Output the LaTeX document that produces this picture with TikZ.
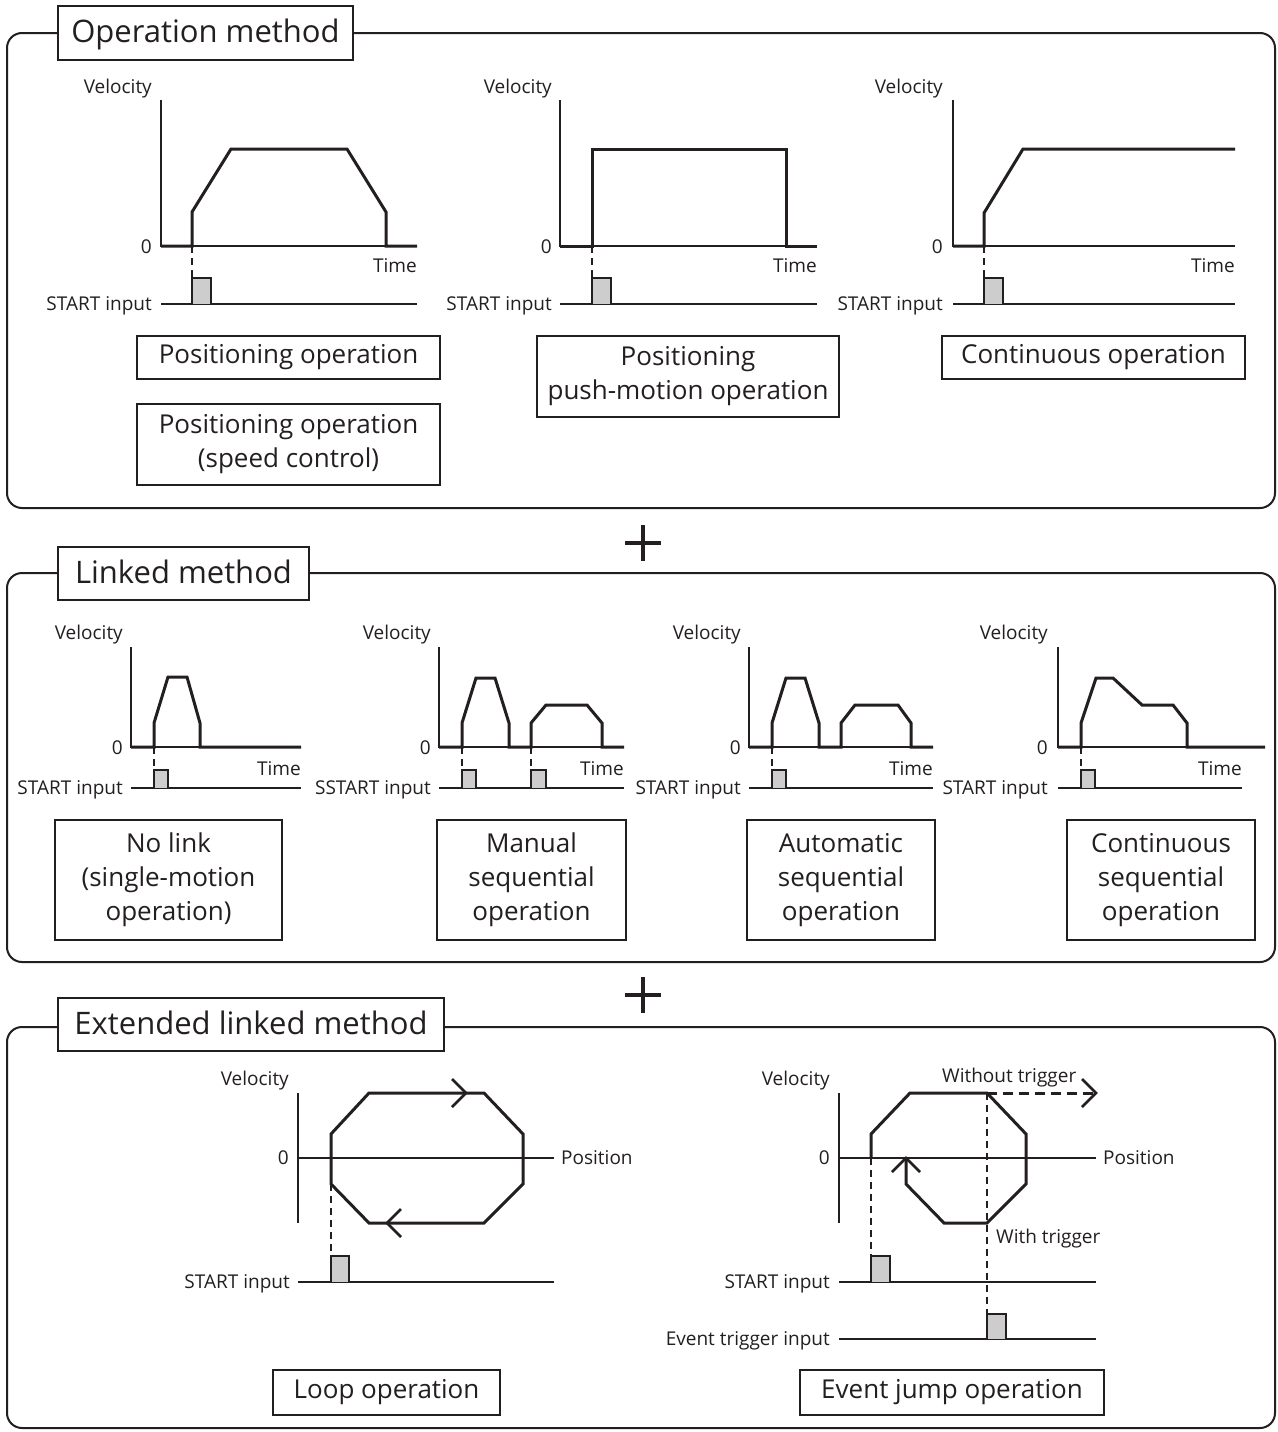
\documentclass[tikz,border=0pt]{standalone}
\usepackage{fontspec}
\setmainfont{Open Sans}
\definecolor{ink}{RGB}{35,31,32}
\definecolor{pgray}{RGB}{205,205,205}
\newcommand\mypulse[4]{% x, baseline y, top y, width
  \filldraw[pls] (#1,#2) -- (#1,#3) -- ({#1+#4},#3) -- ({#1+#4},#2);}
\begin{document}
\begin{tikzpicture}[x=1pt,y=-1pt,
  panel/.style={draw=ink, line width=2pt, rounded corners=15pt},
  ttl/.style={draw=ink, fill=white, line width=1.8pt, font=\fontsize{31}{38}\selectfont, inner sep=0pt, text=ink, text depth=4pt},
  box/.style={draw=ink, line width=1.3pt, font=\fontsize{26}{34}\selectfont, align=center, inner sep=0pt, text=ink},
  lbl/.style={font=\fontsize{19}{22}\selectfont, inner sep=0pt, text=ink},
  lr/.style={lbl, anchor=base east},
  ll/.style={lbl, anchor=base west},
  axis/.style={draw=ink, line width=1.3pt},
  prof/.style={draw=ink, line width=3pt, line join=miter},
  dsh/.style={draw=ink, line width=1.3pt, dash pattern=on 7pt off 5pt},
  pls/.style={fill=pgray, draw=ink, line width=1.3pt},
  chev/.style={draw=ink, line width=2.6pt, line join=miter},
  plus/.style={draw=ink, line width=4.5pt}]
\fill[white] (0,0) rectangle (1277,1432);
\useasboundingbox (0,0) rectangle (1277,1432);

% ================= Panel 1 =================
\draw[panel] (7,33) rectangle (1275,508);
\node[ttl, minimum width=295pt, minimum height=54pt] (T1) at (205.5,33) {Operation method};

% plot 1
\draw[axis] (161,100) -- (161,246) -- (417,246);
\draw[prof] (161,246) -- (192,246) -- (192,212) -- (231,149) -- (347,149) -- (386,212) -- (386,246) -- (417,246);
\draw[dsh] (192,246) -- (192,278);
\draw[axis] (161,304) -- (417,304);
\mypulse{192}{304}{278}{19}
\node[lr] (v1) at (152,93) {Velocity};
\node[lr] (z1) at (152,253) {0};
\node[lr] (t1) at (417,272) {Time};
\node[lr] (s1) at (152,310) {START input};

% plot 2
\draw[axis] (560,100) -- (560,246) -- (817,246);
\draw[prof] (560,246) -- (592,246) -- (592,149) -- (786,149) -- (786,246) -- (817,246);
\draw[dsh] (592,246) -- (592,278);
\draw[axis] (560,304) -- (817,304);
\mypulse{592}{304}{278}{19}
\node[lr] (v2) at (552,93) {Velocity};
\node[lr] (z2) at (552,253) {0};
\node[lr] (t2) at (817,272) {Time};
\node[lr] (s2) at (552,310) {START input};

% plot 3
\draw[axis] (953,100) -- (953,246) -- (1235,246);
\draw[prof] (953,246) -- (984,246) -- (984,213) -- (1023,149) -- (1235,149);
\draw[dsh] (984,246) -- (984,278);
\draw[axis] (953,304) -- (1235,304);
\mypulse{984}{304}{278}{19}
\node[lr] (v3) at (943,93) {Velocity};
\node[lr] (z3) at (943,253) {0};
\node[lr] (t3) at (1235,272) {Time};
\node[lr] (s3) at (943,310) {START input};

\node[box, minimum width=303pt, minimum height=43pt] (b1) at (288.5,357.5) {Positioning operation};
\node[box, minimum width=303pt, minimum height=81pt] (b2) at (288.5,444.5) {Positioning operation\\(speed control)};
\node[box, minimum width=302pt, minimum height=81pt] (b3) at (688,376.5) {Positioning\\push-motion operation};
\node[box, minimum width=303pt, minimum height=43pt] (b4) at (1093.5,357.5) {Continuous operation};

% plus 1
\draw[plus] (625,543) -- (661,543) (643,525) -- (643,561);

% ================= Panel 2 =================
\draw[panel] (7,573) rectangle (1275,962);
\node[ttl, minimum width=251pt, minimum height=53pt] (T2) at (183.5,573.5) {Linked method};

% L1
\draw[axis] (131,647) -- (131,747) -- (301,747);
\draw[prof] (131,747) -- (154,747) -- (154,723) -- (168,677) -- (187,677) -- (200,723) -- (200,747) -- (301,747);
\draw[dsh] (154,747) -- (154,770);
\draw[axis] (131,788) -- (301,788);
\mypulse{154}{788}{770}{14}
\node[lr] (lv1) at (123,639) {Velocity};
\node[lr] (lz1) at (123,754) {0};
\node[lr] (lt1) at (301,775) {Time};
\node[lr] (ls1) at (123,794) {START input};

% L2
\draw[axis] (439,647) -- (439,747) -- (624,747);
\draw[prof] (439,747) -- (462,747) -- (462,723) -- (476,678) -- (495,678) -- (509,723) -- (509,747) -- (531,747) -- (531,723) -- (546,705) -- (587,705) -- (602,723) -- (602,747) -- (624,747);
\draw[dsh] (462,747) -- (462,770);
\draw[dsh] (531,747) -- (531,770);
\draw[axis] (439,788) -- (624,788);
\mypulse{462}{788}{770}{14}
\mypulse{531}{788}{770}{15}
\node[lr] (lv2) at (431,639) {Velocity};
\node[lr] (lz2) at (431,754) {0};
\node[lr] (lt2) at (624,775) {Time};
\node[lr] (ls2) at (431,794) {SSTART input};

% L3
\draw[axis] (749,647) -- (749,747) -- (933,747);
\draw[prof] (749,747) -- (772,747) -- (772,723) -- (786,678) -- (805,678) -- (819,723) -- (819,747) -- (841,747) -- (841,723) -- (855,705) -- (898,705) -- (911,723) -- (911,747) -- (933,747);
\draw[dsh] (772,747) -- (772,770);
\draw[axis] (749,788) -- (933,788);
\mypulse{772}{788}{770}{14}
\node[lr] (lv3) at (741,639) {Velocity};
\node[lr] (lz3) at (741,754) {0};
\node[lr] (lt3) at (933,775) {Time};
\node[lr] (ls3) at (741,794) {START input};

% L4
\draw[axis] (1058,647) -- (1058,747) -- (1265,747);
\draw[prof] (1058,747) -- (1081,747) -- (1081,723) -- (1096,678) -- (1113,678) -- (1142,705) -- (1173,705) -- (1187,723) -- (1187,747) -- (1265,747);
\draw[dsh] (1081,747) -- (1081,770);
\draw[axis] (1058,788) -- (1242,788);
\mypulse{1081}{788}{770}{14}
\node[lr] (lv4) at (1048,639) {Velocity};
\node[lr] (lz4) at (1048,754) {0};
\node[lr] (lt4) at (1242,775) {Time};
\node[lr] (ls4) at (1048,794) {START input};

\node[box, minimum width=227pt, minimum height=120pt] (c1) at (168.5,880) {No link\\(single-motion\\operation)};
\node[box, minimum width=189pt, minimum height=120pt] (c2) at (531.5,880) {Manual\\sequential\\operation};
\node[box, minimum width=188pt, minimum height=120pt] (c3) at (841,880) {Automatic\\sequential\\operation};
\node[box, minimum width=188pt, minimum height=120pt] (c4) at (1161,880) {Continuous\\sequential\\operation};

% plus 2
\draw[plus] (625,995) -- (661,995) (643,977) -- (643,1013);

% ================= Panel 3 =================
\draw[panel] (7,1027) rectangle (1275,1428);
\node[ttl, minimum width=386pt, minimum height=53pt] (T3) at (251,1024.5) {Extended linked method};

% loop
\draw[axis] (298,1093) -- (298,1223);
\draw[axis] (298,1158) -- (554,1158);
\draw[prof] (331,1134) -- (369,1093) -- (484,1093) -- (523,1134) -- (523,1184) -- (484,1223) -- (369,1223) -- (331,1184) -- cycle;
\draw[chev] (452,1079) -- (466,1093) -- (452,1107);
\draw[chev] (401,1209) -- (387,1223) -- (401,1237);
\draw[dsh] (331,1184) -- (331,1256);
\draw[axis] (298,1282) -- (554,1282);
\mypulse{331}{1282}{1256}{18}
\node[lr] (ev1) at (289,1085) {Velocity};
\node[lr] (ez1) at (289,1164) {0};
\node[ll] (ep1) at (561,1164) {Position};
\node[lr] (es1) at (290,1288) {START input};

% event jump
\draw[axis] (839,1093) -- (839,1223);
\draw[axis] (839,1158) -- (1096,1158);
\draw[prof] (871,1158) -- (871,1134) -- (910,1093) -- (987,1093) -- (1026,1134) -- (1026,1184) -- (987,1223) -- (944,1223) -- (906,1184) -- (906,1160);
\draw[chev] (892,1172) -- (906,1158) -- (920,1172);
\draw[draw=ink, line width=3pt, dash pattern=on 10pt off 6pt] (987,1093) -- (1094,1093);
\draw[chev] (1082,1079) -- (1096,1093) -- (1082,1107);
\draw[dsh] (871,1158) -- (871,1256);
\draw[dsh] (987,1093) -- (987,1314);
\draw[axis] (839,1282) -- (1096,1282);
\draw[axis] (839,1339) -- (1096,1339);
\mypulse{871}{1282}{1256}{19}
\mypulse{987}{1339}{1314}{19}
\node[lr] (ev2) at (830,1085) {Velocity};
\node[lr] (ez2) at (830,1164) {0};
\node[ll] (ep2) at (1103,1164) {Position};
\node[ll] (ew1) at (942,1082) {Without trigger};
\node[ll] (ew2) at (996,1243) {With trigger};
\node[lr] (es2) at (830,1288) {START input};
\node[lr] (ee2) at (830,1345) {Event trigger input};

\node[box, minimum width=227pt, minimum height=45pt] (d1) at (386.5,1392.5) {Loop operation};
\node[box, minimum width=304pt, minimum height=45pt] (d2) at (952,1392.5) {Event jump operation};
\end{tikzpicture}
\end{document}
